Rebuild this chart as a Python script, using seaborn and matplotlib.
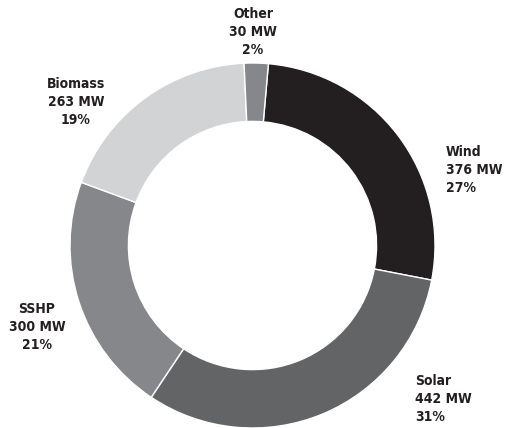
import matplotlib
matplotlib.use("Agg")
import matplotlib.pyplot as plt
import seaborn as sns

categories = ["Wind", "Solar", "SSHP", "Biomass", "Other"]
values_mw = [376, 442, 300, 263, 30]
colors = ["#231f20", "#636466", "#86878a", "#d1d3d4", "#86878a"]

# label placement (pixel coords of reference image) and alignment
label_pos = {"Wind": (446, 170, "left"), "Solar": (415, 399, "left"),
             "SSHP": (37, 327, "center"), "Biomass": (76, 102, "center"),
             "Other": (253, 32, "center")}

sns.set_theme(style="white")
plt.rcParams["font.family"] = ["DejaVu Sans"]

W, H = 505, 428
fig = plt.figure(figsize=(W / 100, H / 100), dpi=100)
ax = fig.add_axes([0, 0, 1, 1])
cx, cy, R = 252.5, 245.5, 182.5
ax.pie(values_mw, colors=colors, startangle=85, counterclock=False,
       radius=1.0, wedgeprops=dict(width=0.32, edgecolor="white", linewidth=1.0))
ax.set_xlim(-cx / R, (W - cx) / R)
ax.set_ylim(-(H - cy) / R, cy / R)
ax.set_aspect("auto")
ax.axis("off")

total = sum(values_mw)
for cat, v in zip(categories, values_mw):
    px, py, ha = label_pos[cat]
    pct = round(v / total * 100)
    fig.text(px / W, 1 - py / H, f"{cat}\n{v} MW\n{pct}%", ha=ha, va="center",
             fontsize=10, fontweight="semibold", fontstretch="condensed",
             color="#231f20", linespacing=1.4, multialignment=ha)

fig.savefig("out.png", dpi=100)
